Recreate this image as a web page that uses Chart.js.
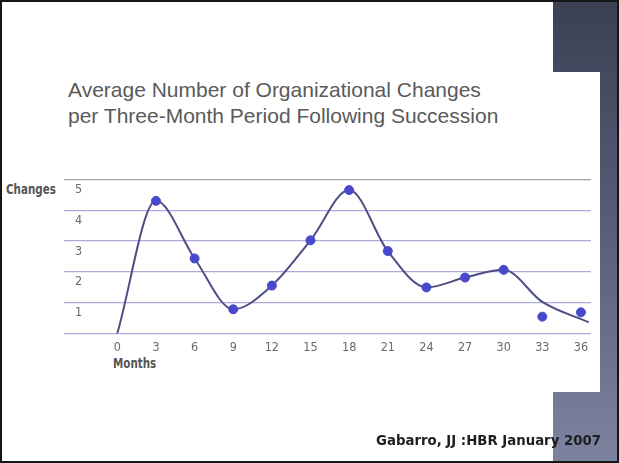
<!DOCTYPE html>
<html>
<head>
<meta charset="utf-8">
<script src="https://cdn.jsdelivr.net/npm/chart.js@4/dist/chart.umd.min.js"></script>
<style>
  html, body { margin: 0; padding: 0; background: #fff; }
  body { position: relative; width: 619px; height: 463px; overflow: hidden; }
  .abs { position: absolute; }
  #panel { left: 553px; top: 0; width: 66px; height: 463px;
           background: linear-gradient(to bottom, #3b4054 0%, #555b74 45%, #7e83a0 100%); }
  #image { left: 0; top: 72px; width: 600px; height: 320px; background: #fff; }
  #frame { left: 0; top: 0; width: 619px; height: 463px; box-sizing: border-box;
           border: 2px solid #161616; pointer-events: none; }
  #title { left: 68px; top: 77px; font: 21px/26px "Liberation Sans", Arial, sans-serif;
           color: #5a5a5a; white-space: nowrap; }
  .axisname { font: bold 14px "DejaVu Sans Condensed", sans-serif;
              color: #555; white-space: nowrap; transform: scaleX(0.82); transform-origin: 0 0; }
  #ylab { left: 6px; top: 181px; }
  #xlab { left: 113px; top: 355px; }
  #source { right: 18px; top: 433px; font: bold 13.3px "DejaVu Sans", sans-serif; color: #1e1e1e;
            white-space: nowrap; }
  #chart { left: 0; top: 0; }
</style>
</head>
<body>
<div id="panel" class="abs"></div>
<div id="image" class="abs"></div>
<div id="title" class="abs">Average Number of Organizational Changes<br>per Three-Month Period Following Succession</div>
<div id="ylab" class="abs axisname">Changes</div>
<div id="xlab" class="abs axisname">Months</div>
<canvas id="chart" class="abs" width="619" height="463"></canvas>
<div id="source" class="abs">Gabarro, JJ :HBR January 2007</div>
<div id="frame" class="abs"></div>
<script>
// tick labels
const monthTicks = [0, 3, 6, 9, 12, 15, 18, 21, 24, 27, 30, 33, 36];
const changeTicks = [0, 1, 2, 3, 4, 5];

// observed averages (dots)
const pointMonths = [3, 6, 9, 12, 15, 18, 21, 24, 27, 30, 33, 36];
const pointValues = [4.30, 2.43, 0.78, 1.55, 3.02, 4.65, 2.67, 1.49, 1.81, 2.06, 0.54, 0.68];

// fitted curve
const curveMonths = [0, 3, 6, 9, 12, 15, 18, 21, 24, 27, 30, 33, 36.6];
const curveValues = [0, 4.30, 2.43, 0.78, 1.55, 3.02, 4.65, 2.67, 1.49, 1.81, 2.06, 1.02, 0.36];

const tickFont = { family: '"DejaVu Sans Condensed", sans-serif', size: 12.5 };

const ctx = document.getElementById('chart');
new Chart(ctx, {
    type: 'scatter',
    data: {
        datasets: [
            {
                data: pointMonths.map((m, i) => ({ x: m, y: pointValues[i] })),
                backgroundColor: '#4848cc',
                borderColor: '#4848cc',
                pointRadius: 4.5,
                showLine: false
            },
            {
                data: curveMonths.map((m, i) => ({ x: m, y: curveValues[i] })),
                borderColor: '#4e4e86',
                borderWidth: 2,
                pointRadius: 0,
                showLine: true,
                cubicInterpolationMode: 'monotone'
            }
        ]
    },
    options: {
        responsive: false,
        animation: false,
        clip: false,
        layout: { padding: { left: 63.5, right: 28, top: 179.3, bottom: 463 - 333.3 - 40 } },
        plugins: { legend: { display: false }, tooltip: { enabled: false } },
        scales: {
            x: {
                type: 'linear',
                min: -4.18,
                max: 36.78,
                afterBuildTicks: s => { s.ticks = monthTicks.map(v => ({ value: v })); },
                afterFit: s => { s.height = 40; },
                grid: { display: false },
                border: { display: false },
                ticks: { autoSkip: false, maxRotation: 0, padding: -1.5, color: '#6a6a6a', font: tickFont }
            },
            y: {
                min: 0,
                max: 5,
                afterBuildTicks: s => { s.ticks = changeTicks.map(v => ({ value: v })); },
                afterFit: s => { s.width = 0; },
                border: { display: false },
                grid: {
                    drawTicks: false,
                    lineWidth: 1.2,
                    color: c => c.tick && c.tick.value === 5 ? '#a3a3a3' : '#ababdc'
                },
                ticks: {
                    mirror: true,
                    padding: 11.5,
                    labelOffset: 10.5,
                    color: '#6a6a6a',
                    font: tickFont,
                    callback: v => v === 0 ? '' : v
                }
            }
        }
    }
});
</script>
</body>
</html>
